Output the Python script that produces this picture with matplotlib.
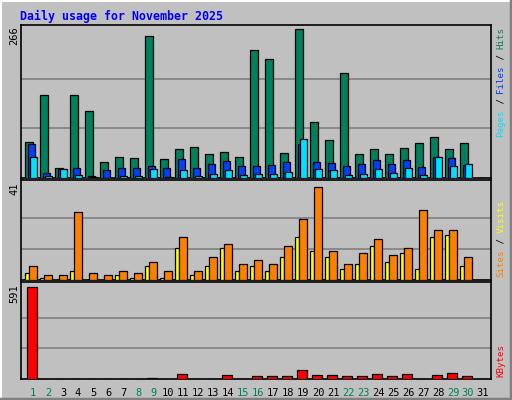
import matplotlib
matplotlib.use("Agg")
import matplotlib.pyplot as plt
from matplotlib.lines import Line2D

days = list(range(1, 32))
hits  = [65,148,18,148,119,29,38,36,253,34,51,56,42,47,38,228,212,45,266,100,67,188,43,51,42,54,63,74,52,62,0]
files = [60,9,16,18,4,14,18,18,22,18,34,18,25,31,22,22,24,29,60,29,27,22,25,33,25,33,20,38,36,24,0]
pages = [38,4,16,5,2,0,4,4,16,2,14,4,7,14,5,7,7,11,69,16,14,5,7,16,9,18,5,38,22,25,0]
sites  = [3,1,0,4,0,0,2,1,6,1,14,2,6,14,4,6,4,10,19,13,10,5,7,15,8,12,5,19,20,6,0]
visits = [6,2,2,30,3,2,4,3,8,4,19,4,10,16,7,9,7,15,27,41,13,7,12,18,11,14,31,22,22,10,0]
kbytes = [591,2,2,2,2,2,2,2,7,2,30,2,2,24,2,17,17,17,56,24,24,17,17,30,17,30,2,24,37,17,0]
weekend = [1,2,8,9,15,16,22,23,29,30]
title = "Daily usage for November 2025"

W, H = 512, 400
fig = plt.figure(figsize=(W/100, H/100), dpi=100)
fig.patch.set_facecolor("#c0c0c0")
MONO = "DejaVu Sans Mono"

fig.add_artist(Line2D([0, 1], [1-0.5/H, 1-0.5/H], color="white", lw=1.5, transform=fig.transFigure))
fig.add_artist(Line2D([0.5/W, 0.5/W], [0, 1], color="white", lw=1.5, transform=fig.transFigure))
fig.add_artist(Line2D([0, 1], [1.5/H, 1.5/H], color="#808080", lw=2.5, transform=fig.transFigure))
fig.add_artist(Line2D([1-1.5/W, 1-1.5/W], [0, 1], color="#808080", lw=2.5, transform=fig.transFigure))

left_px, right_px = 20.7, 490.7
xl0 = 1 - (25 - left_px) / 15.0
xl1 = xl0 + (right_px - left_px) / 15.0

def make_ax(top, bottom, ymax):
    ax = fig.add_axes([left_px/W, 1-bottom/H, (right_px-left_px)/W, (bottom-top)/H])
    ax.set_facecolor("#c0c0c0")
    ax.set_xlim(xl0, xl1)
    ax.set_ylim(0, ymax)
    ax.set_xticks([]); ax.set_yticks([])
    for s in ax.spines.values():
        s.set_linewidth(1.2); s.set_color("black")
    return ax

def grid(ax, vmax):
    for f in (1/3, 2/3):
        ax.axhline(vmax*f, color="#808080", lw=1.2, zorder=0)

kw = dict(align="edge", edgecolor="black", linewidth=0.9, zorder=3)

ax1 = make_ax(25, 178, 266*151/147)
grid(ax1, 266)
ax1.bar(days, hits, width=7.5/15, color="#00805c", **kw)
ax1.bar([d+2.5/15 for d in days], files, width=7.5/15, color="#0040ff", **kw)
ax1.bar([d+4.5/15 for d in days], pages, width=7.5/15, color="#00e0ff", **kw)

ax2 = make_ax(180, 280, 41*99/92)
grid(ax2, 41)
ax2.bar(days, sites, width=4.3/15, color="#ffff00", **kw)
ax2.bar([d+4.3/15 for d in days], visits, width=7.5/15, color="#ff8000", **kw)

ax3 = make_ax(282, 379, 591*97/92)
grid(ax3, 591)
ax3.bar([d+1.7/15 for d in days], kbytes, width=10/15, color="#ff0000", **kw)

for d in days:
    ax3.text(d+8/15, -0.09, str(d), transform=ax3.get_xaxis_transform(), ha="center", va="top",
             fontsize=7.5, family=MONO, color="#00805c" if d in weekend else "black")

fig.text(20/W, 1-16/H, title, fontsize=8.4, family=MONO, weight="bold", color="#0000ff", va="center")

def ylab(txt, y_top):
    fig.text(14/W, 1-y_top/H, txt, rotation=90, fontsize=7.5, family=MONO, ha="center", va="top")
ylab("266", 26); ylab("41", 182); ylab("591", 284)

RFS = 6.6
STEP = RFS * 0.602 * 100 / 72
def rlab(parts, y_bottom):
    y = y_bottom
    for txt, col in parts:
        fig.text(501/W, 1-y/H, txt, rotation=90, fontsize=RFS, family=MONO, color=col,
                 ha="center", va="bottom")
        y -= len(txt) * STEP
rlab([("Pages", "#00e0ff"), (" / ", "black"), ("Files", "#0040ff"), (" / ", "black"), ("Hits", "#00805c")], 137)
rlab([("Sites", "#ff8000"), (" / ", "black"), ("Visits", "#ffff00")], 277)
rlab([("KBytes", "#ff0000")], 377)

fig.savefig("out.png", dpi=100, facecolor=fig.get_facecolor())
